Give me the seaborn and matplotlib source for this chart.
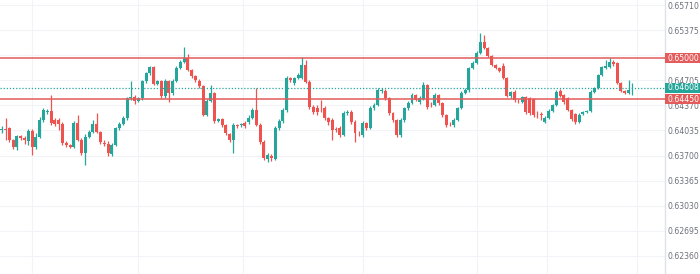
import numpy as np
import pandas as pd
import matplotlib
matplotlib.use("Agg")
import matplotlib.pyplot as plt
from matplotlib.patches import Rectangle
import seaborn as sns

# ---------------- data ----------------
opens = [
    0.64042, 0.64055, 0.64062, 0.63908, 0.63821, 0.63955, 0.63941, 0.63895, 0.64028, 0.63815,
    0.63948, 0.64175, 0.64282, 0.64289, 0.64175, 0.64175, 0.64122, 0.63868, 0.63841, 0.63821,
    0.64135, 0.63908, 0.63734, 0.63948, 0.64015, 0.64128, 0.64015, 0.63868, 0.63861, 0.63721,
    0.63841, 0.64062, 0.64128, 0.64195, 0.64462, 0.64482, 0.64435, 0.64462, 0.64689, 0.64796,
    0.64876, 0.64662, 0.64689, 0.64495, 0.64696, 0.64529, 0.64696, 0.64869, 0.64949, 0.65009,
    0.64843, 0.64756, 0.64702, 0.64629, 0.64242, 0.64435, 0.64529, 0.64168, 0.64182, 0.64108,
    0.63988, 0.63908, 0.64108, 0.64102, 0.64135, 0.64148, 0.64208, 0.64309, 0.64108, 0.63881,
    0.63654, 0.63701, 0.63654, 0.64068, 0.64162, 0.64309, 0.64736, 0.64669, 0.64736, 0.64736,
    0.64909, 0.64682, 0.64349, 0.64335, 0.64335, 0.64335, 0.64202, 0.64175, 0.64055, 0.64068,
    0.63975, 0.64268, 0.64282, 0.64148, 0.64001, 0.63975, 0.64135, 0.64068, 0.64335, 0.64375,
    0.64562, 0.64562, 0.64469, 0.64268, 0.64175, 0.63975, 0.64175, 0.64335, 0.64402, 0.64509,
    0.64415, 0.64455, 0.64642, 0.64389, 0.64375, 0.64509, 0.64402, 0.64242, 0.64122, 0.64108,
    0.64175, 0.64335, 0.64535, 0.64575, 0.64869, 0.64936, 0.65069, 0.65216, 0.65136, 0.65029,
    0.64909, 0.64869, 0.64896, 0.64736, 0.64495, 0.64549, 0.64429, 0.64415, 0.64482, 0.64469,
    0.64455, 0.64268, 0.64255, 0.64148, 0.64202, 0.64295, 0.64375, 0.64562, 0.64509, 0.64469,
    0.64309, 0.64255, 0.64148, 0.64255, 0.64282, 0.64295, 0.64549, 0.64602, 0.64776, 0.64869,
    0.64883, 0.64949, 0.64936, 0.64669, 0.64562, 0.64535, 0.64596,
]
highs = [
    0.64095, 0.64202, 0.64082, 0.63921, 0.63975, 0.63975, 0.63961, 0.64055, 0.64055, 0.64001,
    0.64215, 0.64335, 0.64322, 0.64509, 0.64202, 0.64202, 0.64148, 0.63895, 0.63855, 0.64162,
    0.64242, 0.63935, 0.63988, 0.64042, 0.64175, 0.64268, 0.64028, 0.63908, 0.63895, 0.63868,
    0.64082, 0.64148, 0.64228, 0.64482, 0.64689, 0.64509, 0.64482, 0.64709, 0.64816, 0.64896,
    0.64896, 0.64709, 0.64709, 0.64722, 0.64709, 0.64722, 0.64896, 0.64976, 0.65156, 0.65056,
    0.64856, 0.64776, 0.64722, 0.64642, 0.64455, 0.64642, 0.64549, 0.64202, 0.64202, 0.64122,
    0.64001, 0.64135, 0.64122, 0.64135, 0.64162, 0.64242, 0.64335, 0.64602, 0.64135, 0.63908,
    0.63734, 0.63721, 0.64095, 0.64188, 0.64335, 0.64762, 0.64749, 0.64749, 0.64802, 0.65016,
    0.64976, 0.64709, 0.64375, 0.64375, 0.64442, 0.64362, 0.64215, 0.64202, 0.64082, 0.64095,
    0.64295, 0.64309, 0.64309, 0.64175, 0.64028, 0.64162, 0.64148, 0.64362, 0.64402, 0.64602,
    0.64602, 0.64589, 0.64482, 0.64282, 0.64188, 0.64202, 0.64349, 0.64429, 0.64535, 0.64522,
    0.64495, 0.64682, 0.64656, 0.64415, 0.64535, 0.64522, 0.64415, 0.64255, 0.64148, 0.64202,
    0.64349, 0.64562, 0.64602, 0.64883, 0.64963, 0.65096, 0.65336, 0.65310, 0.65150, 0.65043,
    0.64923, 0.64883, 0.64936, 0.64749, 0.64562, 0.64575, 0.64455, 0.64495, 0.64495, 0.64482,
    0.64469, 0.64295, 0.64282, 0.64228, 0.64322, 0.64389, 0.64575, 0.64589, 0.64522, 0.64482,
    0.64322, 0.64268, 0.64268, 0.64295, 0.64309, 0.64575, 0.64616, 0.64789, 0.64896, 0.64976,
    0.65003, 0.64976, 0.64949, 0.64682, 0.64575, 0.64709, 0.64669,
]
lows = [
    0.64001, 0.63908, 0.63881, 0.63788, 0.63775, 0.63908, 0.63855, 0.63841, 0.63708, 0.63788,
    0.63935, 0.64148, 0.64255, 0.64108, 0.64095, 0.64042, 0.63841, 0.63815, 0.63801, 0.63801,
    0.63895, 0.63708, 0.63574, 0.63935, 0.64001, 0.64001, 0.63855, 0.63828, 0.63694, 0.63694,
    0.63828, 0.64042, 0.64108, 0.64175, 0.64442, 0.64389, 0.64415, 0.64442, 0.64669, 0.64776,
    0.64642, 0.64642, 0.64469, 0.64469, 0.64415, 0.64509, 0.64682, 0.64856, 0.64936, 0.64829,
    0.64736, 0.64682, 0.64602, 0.64228, 0.64228, 0.64415, 0.64135, 0.64148, 0.64082, 0.63975,
    0.63881, 0.63734, 0.64068, 0.64082, 0.64068, 0.64122, 0.64188, 0.64095, 0.63855, 0.63641,
    0.63614, 0.63628, 0.63641, 0.64042, 0.64135, 0.64282, 0.64682, 0.64642, 0.64722, 0.64722,
    0.64669, 0.64322, 0.64255, 0.64242, 0.64282, 0.64175, 0.64108, 0.63908, 0.64015, 0.63948,
    0.63961, 0.64242, 0.64122, 0.63881, 0.63961, 0.63948, 0.64042, 0.64055, 0.64309, 0.64362,
    0.64535, 0.64442, 0.64242, 0.64148, 0.63948, 0.63948, 0.64148, 0.64309, 0.64389, 0.64429,
    0.64389, 0.64442, 0.64322, 0.64349, 0.64362, 0.64375, 0.64215, 0.64082, 0.64095, 0.64082,
    0.64162, 0.64322, 0.64522, 0.64549, 0.64856, 0.64923, 0.65056, 0.65123, 0.65016, 0.64896,
    0.64856, 0.64816, 0.64722, 0.64482, 0.64469, 0.64415, 0.64402, 0.64402, 0.64255, 0.64242,
    0.64215, 0.64202, 0.64175, 0.64135, 0.64188, 0.64282, 0.64362, 0.64482, 0.64389, 0.64295,
    0.64162, 0.64122, 0.64135, 0.64242, 0.64268, 0.64282, 0.64535, 0.64589, 0.64762, 0.64856,
    0.64869, 0.64896, 0.64656, 0.64549, 0.64522, 0.64522, 0.64509,
]
closes = [
    0.64055, 0.64035, 0.63908, 0.63821, 0.63955, 0.63941, 0.63908, 0.64028, 0.63815, 0.63948,
    0.64175, 0.64309, 0.64295, 0.64135, 0.64128, 0.64122, 0.63868, 0.63841, 0.63821, 0.64135,
    0.63908, 0.63734, 0.63948, 0.64015, 0.64128, 0.64015, 0.63875, 0.63855, 0.63734, 0.63841,
    0.64062, 0.64128, 0.64195, 0.64462, 0.64482, 0.64429, 0.64462, 0.64689, 0.64796, 0.64876,
    0.64656, 0.64689, 0.64489, 0.64696, 0.64529, 0.64696, 0.64869, 0.64949, 0.65009, 0.64843,
    0.64756, 0.64709, 0.64629, 0.64242, 0.64435, 0.64529, 0.64155, 0.64182, 0.64108, 0.63995,
    0.63908, 0.64108, 0.64095, 0.64115, 0.64095, 0.64208, 0.64309, 0.64108, 0.63881, 0.63668,
    0.63708, 0.63668, 0.64068, 0.64162, 0.64309, 0.64736, 0.64709, 0.64736, 0.64776, 0.64909,
    0.64682, 0.64349, 0.64282, 0.64282, 0.64329, 0.64202, 0.64148, 0.64042, 0.64048, 0.63975,
    0.64268, 0.64282, 0.64148, 0.64001, 0.63995, 0.64135, 0.64068, 0.64335, 0.64375, 0.64575,
    0.64575, 0.64469, 0.64268, 0.64175, 0.63975, 0.64175, 0.64335, 0.64402, 0.64509, 0.64442,
    0.64469, 0.64642, 0.64349, 0.64382, 0.64509, 0.64402, 0.64242, 0.64108, 0.64115, 0.64175,
    0.64335, 0.64535, 0.64575, 0.64869, 0.64936, 0.65069, 0.65216, 0.65136, 0.65029, 0.64909,
    0.64869, 0.64829, 0.64736, 0.64495, 0.64549, 0.64442, 0.64422, 0.64482, 0.64282, 0.64268,
    0.64242, 0.64262, 0.64248, 0.64202, 0.64295, 0.64375, 0.64549, 0.64495, 0.64415, 0.64309,
    0.64188, 0.64148, 0.64242, 0.64282, 0.64295, 0.64549, 0.64602, 0.64776, 0.64883, 0.64896,
    0.64949, 0.64923, 0.64669, 0.64562, 0.64535, 0.64575, 0.64608,
]

tick_values = [0.65710, 0.65375, 0.65040, 0.64705, 0.64370, 0.64035,
               0.63700, 0.63365, 0.63030, 0.62695, 0.62360]
hidden_ticks = [0.65040]          # covered by the 0.65000 tag in the reference
level_lines = [0.65000, 0.64450]
last_price = 0.64608

# ---------------- style ----------------
sns.set_theme(style="white")
plt.rcParams['font.family'] = ['DejaVu Sans']

UP, DOWN = "#26a69a", "#ef5350"
LEVEL = "#e35b5b"
GRID = "#f1f3f7"
TXT = "#6e717c"

df = pd.DataFrame({"open": opens, "high": highs, "low": lows, "close": closes})
df["idx"] = np.arange(len(df))
df["dir"] = np.where(df["close"] >= df["open"], "up", "down")
df["bottom"] = df[["open", "close"]].min(axis=1)
df["body"] = (df["close"] - df["open"]).abs().clip(lower=0.000025)
palette = {"up": UP, "down": DOWN}
colors = df["dir"].map(palette).values

W, H = 700, 274
fig = plt.figure(figsize=(W / 100, H / 100), dpi=100)
ax = fig.add_axes([0, 0, 665 / W, 1])
ylo, yhi = 0.62119, 0.65777
ax.set_ylim(ylo, yhi)
ax.set_xlim(-0.45, 174.6)

# grid
for v in tick_values:
    ax.axhline(v, color=GRID, lw=0.8, zorder=0)
for gx in [8, 36, 63.5, 95, 125, 143.5, 167.2]:
    ax.axvline(gx, color=GRID, lw=0.8, zorder=0)

# wicks
ax.vlines(df["idx"], df["low"], df["high"], colors=colors, lw=0.9, zorder=3)
# bodies
ax.bar(df["idx"], df["body"], bottom=df["bottom"], width=0.78,
       color=colors, linewidth=0, zorder=4)

# level lines
for v in level_lines:
    ax.axhline(v, color=LEVEL, lw=1.1, zorder=5)
ax.axhline(last_price, color=UP, lw=0.9, ls=(0, (1, 1.5)), zorder=5)

# axis formatting
ax.set_xticks([])
ax.yaxis.tick_right()
ax.set_yticks(tick_values)
ax.set_yticklabels(["" if v in hidden_ticks else f"{v:.5f}" for v in tick_values])
ax.tick_params(axis="y", length=0, pad=2, labelsize=5.6, labelcolor=TXT)
for s in ["left", "top", "bottom"]:
    ax.spines[s].set_visible(False)
ax.spines["right"].set_color("#dfe2e8")
ax.spines["right"].set_linewidth(1.0)
ax.grid(False)

# price tags on the right scale
def tag(value, color):
    yf = (value - ylo) / (yhi - ylo)
    h = 10 / H
    fig.add_artist(Rectangle((665 / W, yf - h / 2), 35 / W, h,
                             transform=fig.transFigure, facecolor=color,
                             edgecolor="none", zorder=10))
    fig.text(667 / W, yf, f"{value:.5f}", color="white", fontsize=5.6,
             ha="left", va="center", zorder=11)

tag(level_lines[0], LEVEL)
tag(last_price, UP)
tag(level_lines[1], LEVEL)

fig.savefig("out.png", dpi=100)
